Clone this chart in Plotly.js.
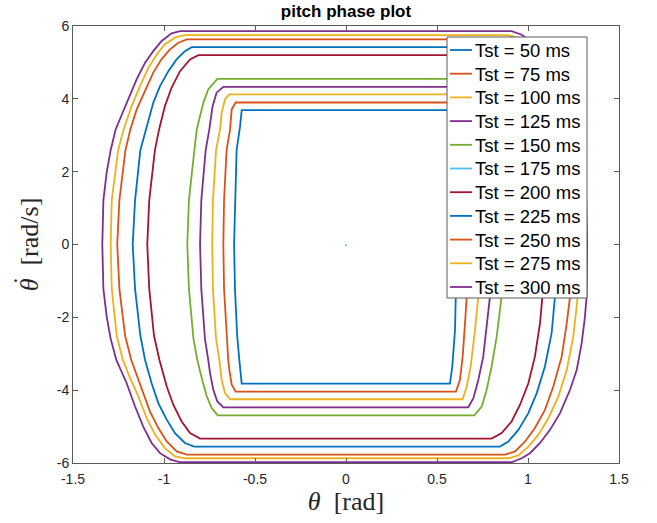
<!DOCTYPE html>
<html>
<head>
<meta charset="utf-8">
<script src="https://cdn.plot.ly/plotly-3.0.1.min.js"></script>
<style>html,body{margin:0;padding:0;background:#fff}#plot{width:657px;height:523px}</style>
</head>
<body>
<div id="plot"></div>
<script>
// Tick labels
const xTickVals = [-1.5, -1, -0.5, 0, 0.5, 1, 1.5];
const xTickText = ['-1.5', '-1', '-0.5', '0', '0.5', '1', '1.5'];
const yTickVals = [-6, -4, -2, 0, 2, 4, 6];
const yTickText = ['-6', '-4', '-2', '0', '2', '4', '6'];

// Series names
const seriesNames = ['Tst = 50 ms', 'Tst = 75 ms', 'Tst = 100 ms', 'Tst = 125 ms', 'Tst = 150 ms',
  'Tst = 175 ms', 'Tst = 200 ms', 'Tst = 225 ms', 'Tst = 250 ms', 'Tst = 275 ms', 'Tst = 300 ms'];

// Tst = 50 ms
const x50 = [0, 0.571, 0.584, 0.599, 0.603, 0.61, 0.605, 0.598, 0.585, 0.575, -0.573, -0.582, -0.601, -0.610, -0.615, -0.610, -0.598, -0.586, -0.573, 0.07];
const y50 = [-3.82, -3.82, -3.35, -2.34, -1.43, 0, 1.22, 2.59, 3.3, 3.69, 3.69, 3.25, 2.59, 1.22, 0, -1.22, -2.5, -3.18, -3.82, -3.82];

// Tst = 75 ms
const x75 = [0, 0.604, 0.626, 0.641, 0.654, 0.663, 0.672, 0.668, 0.655, 0.637, 0.628, 0.606, -0.606, -0.628, -0.637, -0.656, -0.670, -0.674, -0.670, -0.656, -0.647, -0.641, -0.628, -0.606, 0.07];
const y75 = [-4.04, -4.04, -3.72, -3.08, -2.16, -1.43, 0, 1.22, 2.59, 3.16, 3.71, 3.90, 3.90, 3.71, 3.16, 2.59, 1.22, 0, -1.22, -2.59, -3.17, -3.44, -3.85, -4.04, -4.04];

// Tst = 100 ms
const x100 = [0, 0.641, 0.663, 0.685, 0.709, 0.727, 0.735, 0.731, 0.714, 0.692, 0.683, 0.665, 0.641, -0.641, -0.665, -0.683, -0.692, -0.714, -0.731, -0.735, -0.731, -0.714, -0.696, -0.683, -0.665, -0.637, 0.07];
const y100 = [-4.25, -4.25, -3.90, -3.35, -2.34, -1.43, 0, 1.22, 2.59, 3.16, 3.62, 3.99, 4.12, 4.12, 3.99, 3.62, 3.16, 2.59, 1.22, 0, -1.22, -2.59, -3.17, -3.72, -4.08, -4.25, -4.25];

// Tst = 125 ms
const x125 = [0, 0.672, 0.70, 0.727, 0.754, 0.773, 0.791, 0.802, 0.795, 0.771, 0.751, 0.733, 0.711, 0.674, -0.674, -0.711, -0.733, -0.751, -0.771, -0.795, -0.802, -0.795, -0.775, -0.757, -0.747, -0.729, -0.707, -0.674, 0.07];
const y125 = [-4.47, -4.47, -4.22, -3.72, -3.08, -2.25, -1.43, 0, 1.22, 2.59, 3.16, 3.80, 4.17, 4.33, 4.33, 4.17, 3.80, 3.16, 2.59, 1.22, 0, -1.22, -2.59, -3.17, -3.53, -3.99, -4.31, -4.47, -4.47];

// Tst = 150 ms
const x150 = [0, 0.705, 0.746, 0.773, 0.80, 0.828, 0.846, 0.855, 0.872, 0.863, 0.833, 0.82, 0.802, 0.784, 0.757, 0.707, -0.707, -0.757, -0.784, -0.802, -0.82, -0.833, -0.863, -0.872, -0.863, -0.838, -0.817, -0.79, -0.765, -0.738, -0.705, 0.07];
const y150 = [-4.69, -4.69, -4.45, -3.99, -3.35, -2.53, -1.79, -1.43, 0, 1.22, 2.59, 3.16, 3.53, 3.89, 4.26, 4.55, 4.55, 4.26, 3.89, 3.53, 3.16, 2.59, 1.22, 0, -1.22, -2.59, -3.17, -3.72, -4.17, -4.49, -4.69, -4.69];

// Tst = 175 ms
const x175 = [0, 0];
const y175 = [0, -0.04];

// Tst = 200 ms
const x200 = [0, 0.80, 0.855, 0.91, 0.956, 1.002, 1.038, 1.066, 1.079, 1.092, 1.081, 1.050, 1.027, 0.995, 0.958, 0.912, 0.857, 0.811, -0.811, -0.857, -0.912, -0.958, -0.995, -1.027, -1.050, -1.081, -1.092, -1.081, -1.055, -1.025, -0.985, -0.949, -0.903, -0.857, -0.802, 0.07];
const y200 = [-5.33, -5.33, -5.18, -4.86, -4.40, -3.81, -3.08, -2.16, -1.43, 0, 1.22, 2.59, 3.16, 3.80, 4.31, 4.76, 5.08, 5.20, 5.20, 5.08, 4.76, 4.31, 3.80, 3.16, 2.59, 1.22, 0, -1.22, -2.5, -3.17, -3.90, -4.40, -4.86, -5.18, -5.33, -5.33];

// Tst = 225 ms
const x225 = [0, 0.846, 0.892, 0.947, 1.002, 1.048, 1.093, 1.130, 1.148, 1.165, 1.159, 1.130, 1.097, 1.059, 1.022, 0.976, 0.93, 0.885, 0.848, -0.848, -0.885, -0.93, -0.976, -1.022, -1.059, -1.097, -1.130, -1.159, -1.172, -1.159, -1.13, -1.104, -1.068, -1.031, -0.985, -0.94, -0.885, -0.835, 0.07];
const y225 = [-5.55, -5.55, -5.41, -5.09, -4.63, -4.08, -3.35, -2.43, -1.43, 0, 1.22, 2.59, 3.16, 3.89, 4.35, 4.76, 5.09, 5.31, 5.42, 5.42, 5.31, 5.09, 4.76, 4.35, 3.89, 3.16, 2.59, 1.22, 0, -1.22, -2.5, -3.17, -3.81, -4.36, -4.81, -5.18, -5.45, -5.55, -5.55];

// Tst = 250 ms
const x250 = [0, 0.874, 0.929, 0.984, 1.038, 1.093, 1.139, 1.185, 1.213, 1.231, 1.25, 1.245, 1.212, 1.185, 1.150, 1.104, 1.059, 1.013, 0.967, 0.921, 0.875, -0.875, -0.921, -0.967, -1.013, -1.059, -1.104, -1.150, -1.185, -1.212, -1.245, -1.257, -1.245, -1.214, -1.180, -1.123, -1.077, -1.031, -0.985, -0.93, -0.875, 0.07];
const y250 = [-5.77, -5.77, -5.68, -5.41, -5.04, -4.54, -3.90, -3.08, -2.16, -1.43, 0, 1.22, 2.59, 3.16, 3.71, 4.22, 4.72, 5.09, 5.36, 5.54, 5.63, 5.63, 5.54, 5.36, 5.09, 4.72, 4.22, 3.71, 3.16, 2.59, 1.22, 0, -1.22, -2.5, -3.17, -3.99, -4.59, -5.04, -5.41, -5.68, -5.77, -5.77];

// Tst = 275 ms
const x275 = [0, 0.892, 0.947, 1.002, 1.057, 1.112, 1.167, 1.213, 1.249, 1.273, 1.29, 1.287, 1.252, 1.222, 1.178, 1.132, 1.086, 1.04, 0.995, 0.94, 0.888, -0.888, -0.94, -0.995, -1.04, -1.086, -1.132, -1.178, -1.222, -1.252, -1.287, -1.293, -1.287, -1.26, -1.226, -1.188, -1.141, -1.095, -1.049, -0.995, -0.94, -0.885, 0.07];
const y275 = [-5.87, -5.87, -5.79, -5.55, -5.22, -4.77, -4.17, -3.44, -2.53, -1.43, 0, 1.22, 2.59, 3.16, 3.80, 4.35, 4.85, 5.22, 5.50, 5.68, 5.75, 5.75, 5.68, 5.50, 5.22, 4.85, 4.35, 3.80, 3.16, 2.59, 1.22, 0, -1.22, -2.5, -3.17, -3.65, -4.17, -4.77, -5.22, -5.59, -5.82, -5.87, -5.87];

// Tst = 300 ms
const x300 = [0, 0.91, 0.965, 1.011, 1.066, 1.121, 1.176, 1.231, 1.268, 1.295, 1.313, 1.322, 1.325, 1.32, 1.293, 1.266, 1.242, 1.196, 1.150, 1.104, 1.059, 1.013, 0.965, 0.91, -0.912, -0.958, -1.013, -1.059, -1.104, -1.150, -1.196, -1.242, -1.266, -1.293, -1.315, -1.333, -1.339, -1.333, -1.315, -1.293, -1.262, -1.205, -1.159, -1.114, -1.068, -1.022, -0.967, -0.912, 0.07];
const y300 = [-5.98, -5.98, -5.87, -5.73, -5.45, -5.09, -4.63, -3.99, -3.44, -2.71, -1.98, -1.43, 0, 1.22, 2.59, 3.16, 3.44, 3.99, 4.54, 4.99, 5.31, 5.59, 5.76, 5.86, 5.86, 5.80, 5.59, 5.31, 4.99, 4.54, 3.99, 3.44, 3.16, 2.59, 1.98, 1.22, 0, -1.22, -1.98, -2.59, -3.17, -3.81, -4.45, -5.00, -5.45, -5.73, -5.90, -5.98, -5.98];

const xs = [x50, x75, x100, x125, x150, x175, x200, x225, x250, x275, x300];
const ys = [y50, y75, y100, y125, y150, y175, y200, y225, y250, y275, y300];

// Styles
const colors = ['#0072BD', '#D95319', '#EDB120', '#7E2F8E', '#77AC30', '#4DBEEE', '#A2142F',
  '#0072BD', '#D95319', '#EDB120', '#7E2F8E'];
const frameColor = '#5a5a5a';

const traces = seriesNames.map((name, i) => ({
  type: 'scatter',
  mode: 'lines',
  name: name,
  x: xs[i],
  y: ys[i],
  line: {color: colors[i], width: 1.8},
  hoverinfo: 'skip',
  showlegend: false
}));

// Plot-area geometry in pixels (used for the hand-made MATLAB-style legend box)
const W = 657, H = 523, ML = 73, MR = 38, MT = 26, MB = 60;
const PW = W - ML - MR, PH = H - MT - MB;
const px2x = p => (p - ML) / PW;
const px2y = p => (H - MB - p) / PH;

const legBox = {x0: 447, x1: 587, y0: 37, y1: 298};
const legRow0 = 50, legRowStep = 23.7;

const shapes = [{
  type: 'rect', xref: 'paper', yref: 'paper', layer: 'above',
  x0: px2x(legBox.x0), x1: px2x(legBox.x1), y0: px2y(legBox.y1), y1: px2y(legBox.y0),
  fillcolor: '#ffffff', line: {color: frameColor, width: 1}
}];
const annotations = [];
seriesNames.forEach((name, i) => {
  const py = legRow0 + i * legRowStep;
  shapes.push({
    type: 'line', xref: 'paper', yref: 'paper', layer: 'above',
    x0: px2x(450), x1: px2x(472), y0: px2y(py), y1: px2y(py),
    line: {color: colors[i], width: 1.8}
  });
  annotations.push({
    xref: 'paper', yref: 'paper', x: px2x(473), y: px2y(py + 0.5),
    xanchor: 'left', yanchor: 'middle', showarrow: false, text: name,
    font: {family: 'Liberation Sans, Arial, sans-serif', size: 18.5, color: '#000000'}
  });
});

// Dot accent of the y-axis label (theta-dot), drawn as text above the rotated theta
annotations.push({
  xref: 'paper', yref: 'paper', x: px2x(22), y: px2y(281),
  xanchor: 'center', yanchor: 'middle', showarrow: false, textangle: -90,
  text: '˙',
  font: {family: 'Liberation Serif, Times New Roman, serif', size: 26, color: '#262626'}
});

const axisCommon = {
  showline: true,
  mirror: 'ticks',
  ticks: 'inside',
  ticklen: 5,
  tickcolor: frameColor,
  linecolor: frameColor,
  linewidth: 1,
  showgrid: false,
  zeroline: false,
  tickfont: {family: 'Liberation Sans, Arial, sans-serif', size: 14, color: '#262626'}
};

const layout = {
  width: W,
  height: H,
  paper_bgcolor: '#ffffff',
  plot_bgcolor: '#ffffff',
  margin: {l: ML, r: MR, t: MT, b: MB},
  title: {
    text: '<b>pitch phase plot</b>',
    font: {family: 'Liberation Sans, Arial, sans-serif', size: 17, color: '#000000'},
    x: 0.5, xref: 'paper', xanchor: 'center',
    y: 0.978, yref: 'container', yanchor: 'middle'
  },
  xaxis: Object.assign({}, axisCommon, {
    range: [-1.5, 1.5],
    tickvals: xTickVals,
    ticktext: xTickText,
    ticklabelstandoff: 3,
    title: {text: '<i>θ</i>&nbsp; [rad]', font: {family: 'Liberation Serif, Times New Roman, serif', size: 26, color: '#262626'}, standoff: 4}
  }),
  yaxis: Object.assign({}, axisCommon, {
    range: [-6, 6],
    tickvals: yTickVals,
    ticktext: yTickText,
    title: {text: '<i>θ</i>&nbsp; [rad/s]', font: {family: 'Liberation Serif, Times New Roman, serif', size: 26, color: '#262626'}, standoff: 10}
  }),
  shapes: shapes,
  annotations: annotations,
  showlegend: false
};

Plotly.newPlot('plot', traces, layout, {staticPlot: true, displayModeBar: false});
</script>
</body>
</html>
